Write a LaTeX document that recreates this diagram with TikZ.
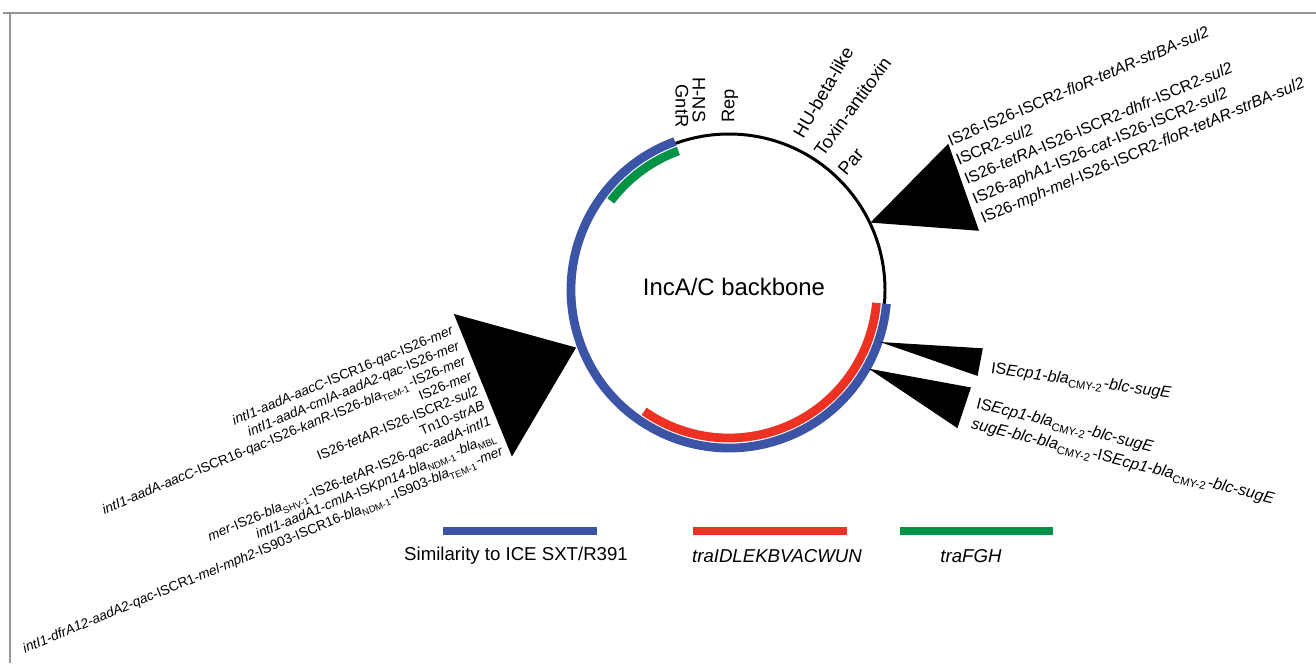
\documentclass[tikz,border=0pt]{standalone}
\usepackage{fontspec}
\setmainfont{Liberation Sans}
\usepackage{xcolor}
\usepackage{tikz}

\definecolor{simblue}{RGB}{59,84,165}
\definecolor{trared}{RGB}{237,50,36}
\definecolor{tragreen}{RGB}{0,146,69}
\definecolor{framegray}{RGB}{150,150,150}

\newcommand{\gn}[1]{\textit{#1}}
\newcommand{\gsub}[1]{\textsubscript{\upshape #1}}

\tikzset{
	band/.style={line width=2.5pt},
	legbar/.style={line width=2.3pt},
	toplbl/.style={inner sep=0pt, font=\fontsize{5.2pt}{6.2pt}\selectfont},
	leglbl/.style={inner sep=0pt, font=\fontsize{5.3pt}{6.4pt}\selectfont},
	genes/.style={inner sep=0pt, font=\fontsize{4.55pt}{5.97pt}\selectfont},
	genesleft/.style={inner sep=0pt, font=\fontsize{3.87pt}{4.64pt}\selectfont}
}

\begin{document}
\begin{tikzpicture}
	\useasboundingbox (0,0) rectangle (13.16,6.63);
	% frame
	\draw[framegray, line width=0.85pt] (0.03,6.50) -- (13.16,6.50);
	\draw[framegray, line width=0.4pt] (0.10,6.50) -- (0.10,0);
	% backbone ring and regions
	\coordinate (c) at (7.29,3.73);
	\draw[line width=0.85pt] (c) circle (1.56cm);
	\draw[simblue, band] (c) ++(110:1.58) arc[start angle=110, end angle=355, radius=1.58];
	\draw[trared, band] (c) ++(235:1.48) arc[start angle=235, end angle=355, radius=1.48];
	\draw[tragreen, band] (c) ++(110:1.48) arc[start angle=110, end angle=143, radius=1.48];
	\node[font=\fontsize{6.8pt}{8pt}\selectfont] (backbone) at (7.34,3.76) {IncA/C backbone};
	% insertion wedges
	\filldraw (8.72,4.41) -- (9.48,5.18) -- (9.78,4.33) -- cycle;
	\filldraw (8.85,3.20) -- (9.82,3.14) -- (9.77,2.88) -- cycle;
	\filldraw (8.72,2.93) -- (9.70,2.75) -- (9.57,2.36) -- cycle;
	\filldraw (4.55,3.48) -- (5.75,3.15) -- (5.12,2.08) -- cycle;
	% backbone genes
	\node[toplbl, rotate=-90] (gntr) at (6.82,5.57) {GntR};
	\node[toplbl, rotate=-90] (hns) at (6.99,5.63) {H-NS};
	\node[toplbl, rotate=90] (rep) at (7.30,5.57) {Rep};
	\node[toplbl, rotate=60, anchor=base west] (hu) at (8.03,5.23) {HU-beta-like};
	\node[toplbl, rotate=54, anchor=base west] (ta) at (8.23,5.05) {Toxin-antitoxin};
	\node[toplbl, rotate=50, anchor=base west] (par) at (8.46,4.86) {Par};
	% resistance regions
	\node[genes, rotate=23, anchor=north west, align=left] (ins1) at (9.454,5.278) {IS26-IS26-ISCR2-\gn{floR}-\gn{tetAR}-\gn{strBA}-\gn{sul2}\\
		ISCR2-\gn{sul2}\\
		IS26-\gn{tetRA}-IS26-ISCR2-\gn{dhfr}-ISCR2-\gn{sul2}\\
		IS26-\gn{aphA1}-IS26-\gn{cat}-IS26-ISCR2-\gn{sul2}\\
		IS26-\gn{mph}-\gn{mel}-IS26-ISCR2-\gn{floR}-\gn{tetAR}-\gn{strBA}-\gn{sul2}};
	\node[genes, rotate=-8, anchor=base west] (ins2) at (9.90,2.90) {IS\gn{Ecp1}-\gn{bla}\gsub{CMY-2}-\gn{blc}-\gn{sugE}};
	\node[genes, rotate=-14, anchor=north west, align=left] (ins3) at (9.78,2.67) {IS\gn{Ecp1}-\gn{bla}\gsub{CMY-2}-\gn{blc}-\gn{sugE}\\
		\gn{sugE}-\gn{blc}-\gn{bla}\gsub{CMY-2}-IS\gn{Ecp1}-\gn{bla}\gsub{CMY-2}-\gn{blc}-\gn{sugE}};
	\node[genesleft, rotate=22.5, anchor=north east, align=right] (ins4) at (4.51,3.39) {\gn{intI1}-\gn{aadA}-\gn{aacC}-ISCR16-\gn{qac}-IS26-\gn{mer}\\
		\gn{intI1}-\gn{aadA}-\gn{cmlA}-\gn{aadA2}-\gn{qac}-IS26-\gn{mer}\\
		\gn{intI1}-\gn{aadA}-\gn{aacC}-ISCR16-\gn{qac}-IS26-\gn{kanR}-IS26-\gn{bla}\gsub{TEM-1}-IS26-\gn{mer}\\
		IS26-\gn{mer}\\
		IS26-\gn{tetAR}-IS26-ISCR2-\gn{sul2}\\
		Tn10-\gn{strAB}\\
		\gn{mer}-IS26-\gn{bla}\gsub{SHV-1}-IS26-\gn{tetAR}-IS26-\gn{qac}-\gn{aadA}-\gn{intI1}\\
		\gn{intI1}-\gn{aadA1}-\gn{cmlA}-IS\gn{Kpn14}-\gn{bla}\gsub{NDM-1}-\gn{bla}\gsub{MBL}\\
		\gn{intI1}-\gn{dfrA12}-\gn{aadA2}-\gn{qac}-ISCR1-\gn{mel}-\gn{mph2}-IS903-ISCR16-\gn{bla}\gsub{NDM-1}-IS903-\gn{bla}\gsub{TEM-1}-\gn{mer}};
	% legend
	\draw[simblue, legbar] (4.43,1.32) -- (5.97,1.32);
	\draw[trared, legbar] (6.93,1.32) -- (8.47,1.32);
	\draw[tragreen, legbar] (9.00,1.32) -- (10.53,1.32);
	\node[leglbl] (legsxt) at (5.16,1.07) {Similarity to ICE SXT/R391};
	\node[leglbl] (legtra) at (7.77,1.07) {\gn{traIDLEKBVACWUN}};
	\node[leglbl] (legfgh) at (9.71,1.07) {\gn{traFGH}};
\end{tikzpicture}
\end{document}
